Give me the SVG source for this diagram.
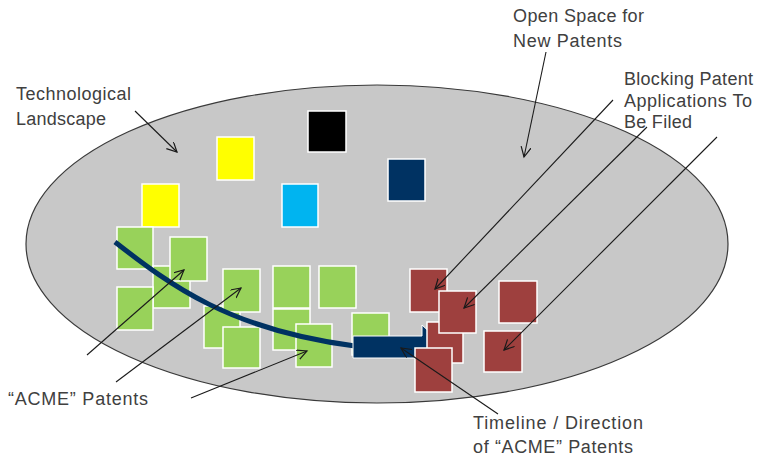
<svg xmlns="http://www.w3.org/2000/svg" width="761" height="459" viewBox="0 0 761 459">
<style>
.lbl{font-family:"Liberation Sans",Arial,sans-serif;font-size:18px;fill:#404040}
.sq{stroke:#ffffff;stroke-width:1.5}
.g{fill:#98d25a}
.r{fill:#9e403e}
.ln{stroke:#1a1a1a;stroke-width:1.1;fill:none;marker-end:url(#ah)}
</style>
<defs>
<marker id="ah" markerUnits="userSpaceOnUse" markerWidth="14" markerHeight="12" refX="10" refY="5" orient="auto">
<path d="M0,0 L10,5 L0,10" fill="none" stroke="#1a1a1a" stroke-width="1.2"/>
</marker>
</defs>
<rect width="761" height="459" fill="#ffffff"/>
<g id="landscape">
<ellipse cx="377" cy="244" rx="351" ry="159" fill="#c8c8c8" stroke="#3a3a3a" stroke-width="1.2"/>
</g>
<g id="other-patents">
<rect class="sq" x="308" y="111" width="38" height="41" fill="#000000"/>
<rect class="sq" x="217" y="137" width="37" height="43" fill="#ffff00"/>
<rect class="sq" x="142" y="184" width="37" height="43" fill="#ffff00"/>
<rect class="sq" x="282" y="184" width="36" height="43" fill="#00b4f0"/>
<rect class="sq" x="388" y="159" width="37" height="42" fill="#003262"/>
</g>
<g id="acme-patents">
<rect class="sq g" x="117" y="227" width="36" height="42"/>
<rect class="sq g" x="153" y="266" width="37" height="42"/>
<rect class="sq g" x="170" y="237" width="37" height="44"/>
<rect class="sq g" x="117" y="287" width="36" height="43"/>
<rect class="sq g" x="204" y="306" width="36" height="42"/>
<rect class="sq g" x="223" y="269" width="37" height="43"/>
<rect class="sq g" x="223" y="327" width="37" height="41"/>
<rect class="sq g" x="273" y="266" width="37" height="42"/>
<rect class="sq g" x="273" y="309" width="37" height="41"/>
<rect class="sq g" x="296" y="324" width="36" height="43"/>
<rect class="sq g" x="319" y="266" width="37" height="42"/>
<rect class="sq g" x="352" y="313" width="37" height="42"/>
</g>
<g id="timeline">
<path d="M115,242 C170,285 230,330 355,346" fill="none" stroke="#003262" stroke-width="5"/>
<polygon points="353,336 422,336 422,325 446,347 422,369 422,358 353,358" fill="#003262" stroke="#ffffff" stroke-width="1"/>
</g>
<g id="blocking-patents">
<rect class="sq r" x="410" y="269" width="37" height="43"/>
<rect class="sq r" x="427" y="322" width="36" height="41"/>
<rect class="sq r" x="439" y="291" width="37" height="42"/>
<rect class="sq r" x="415" y="348" width="37" height="44"/>
<rect class="sq r" x="499" y="281" width="38" height="42"/>
<rect class="sq r" x="484" y="331" width="38" height="41"/>
</g>
<g id="label-tech">
<text class="lbl" x="16" y="100" textLength="115" lengthAdjust="spacing">Technological</text>
<text class="lbl" x="16" y="125" textLength="90" lengthAdjust="spacing">Landscape</text>
</g>
<g id="label-open">
<text class="lbl" x="513" y="22" textLength="131" lengthAdjust="spacing">Open Space for</text>
<text class="lbl" x="513" y="47" textLength="109" lengthAdjust="spacing">New Patents</text>
</g>
<g id="label-blocking">
<text class="lbl" x="624" y="85" textLength="129" lengthAdjust="spacing">Blocking Patent</text>
<text class="lbl" x="624" y="106.5" textLength="128" lengthAdjust="spacing">Applications To</text>
<text class="lbl" x="624" y="128" textLength="68" lengthAdjust="spacing">Be Filed</text>
</g>
<g id="label-acme">
<text class="lbl" x="8" y="405" textLength="140" lengthAdjust="spacing">“ACME” Patents</text>
</g>
<g id="label-timeline">
<text class="lbl" x="473" y="429" textLength="170" lengthAdjust="spacing">Timeline / Direction</text>
<text class="lbl" x="473" y="453" textLength="160" lengthAdjust="spacing">of “ACME” Patents</text>
</g>
<g id="connectors">
<line class="ln" x1="135" y1="111" x2="177" y2="152"/>
<line class="ln" x1="546" y1="52" x2="524" y2="157"/>
<line class="ln" x1="613" y1="100" x2="435" y2="289"/>
<line class="ln" x1="647" y1="127" x2="464" y2="308"/>
<line class="ln" x1="717" y1="137" x2="504" y2="350"/>
<line class="ln" x1="87" y1="355" x2="184" y2="270"/>
<line class="ln" x1="116" y1="382" x2="241" y2="288"/>
<line class="ln" x1="191" y1="398" x2="307" y2="351"/>
<line class="ln" x1="498" y1="414" x2="401" y2="348"/>
</g>
</svg>
